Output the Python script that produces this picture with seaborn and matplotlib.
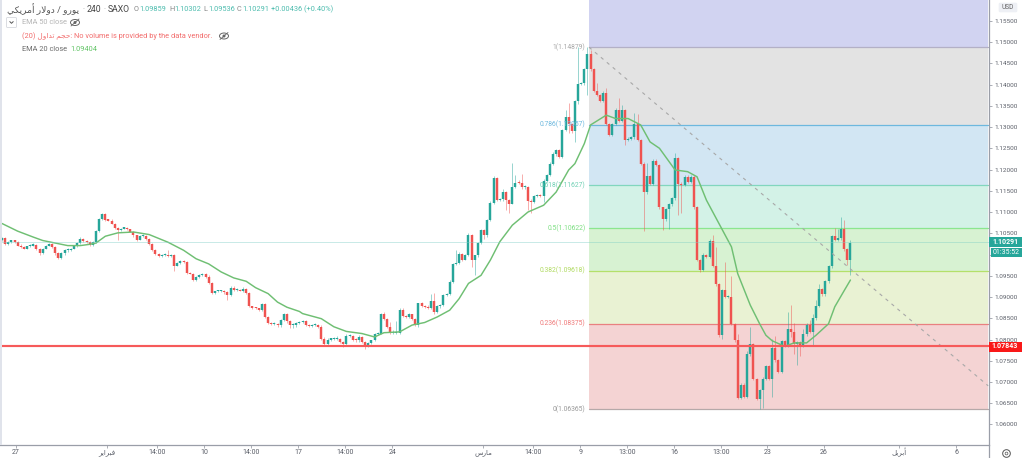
import numpy as np
import pandas as pd
import matplotlib
matplotlib.use("Agg")
import matplotlib.pyplot as plt
from matplotlib.patches import Rectangle, Ellipse, FancyBboxPatch
import seaborn as sns

# ---------- data ----------
first_open = 1.1033
closes = [
 1.1039,1.1025,1.1029,1.1033,1.1029,1.1021,1.1018,1.1014,1.1019,1.1021,
 1.1023,1.1014,1.1004,1.1014,1.1021,1.1025,1.1018,1.1003,1.0992,1.1003,
 1.1010,1.1011,1.1014,1.1019,1.1027,1.1037,1.1032,1.1029,1.1023,1.1029,
 1.1055,1.1083,1.1095,1.1082,1.1080,1.1073,1.1063,1.1058,1.1061,1.1061,
 1.1059,1.1054,1.1045,1.1035,1.1043,1.1043,1.1037,1.1025,1.1011,1.1002,
 1.0997,1.0998,1.0998,1.0996,1.0998,1.0974,1.0980,1.0984,1.0982,1.0956,
 1.0955,1.0941,1.0947,1.0951,1.0955,1.0948,1.0933,1.0909,1.0913,1.0913,
 1.0914,1.0911,1.0904,1.0922,1.0917,1.0917,1.0915,1.0919,1.0909,1.0878,
 1.0875,1.0873,1.0870,1.0884,1.0854,1.0839,1.0837,1.0837,1.0833,1.0846,
 1.0859,1.0843,1.0833,1.0834,1.0839,1.0841,1.0844,1.0834,1.0832,1.0834,
 1.0834,1.0830,1.0802,1.0790,1.0800,1.0802,1.0802,1.0802,1.0794,1.0789,
 1.0808,1.0808,1.0800,1.0798,1.0806,1.0794,1.0786,1.0792,1.0798,1.0812,
 1.0814,1.0861,1.0849,1.0830,1.0816,1.0816,1.0816,1.0870,1.0855,1.0853,
 1.0859,1.0848,1.0834,1.0885,1.0879,1.0877,1.0875,1.0890,1.0865,1.0878,
 1.0881,1.0904,1.0906,1.0936,1.0977,1.0980,1.1001,1.0988,1.0998,1.1045,
 1.0987,1.0998,1.1027,1.1057,1.1045,1.1081,1.1122,1.1181,1.1128,1.1130,
 1.1146,1.1128,1.1120,1.1159,1.1169,1.1168,1.1158,1.1158,1.1126,1.1124,
 1.1138,1.1140,1.1138,1.1174,1.1187,1.1214,1.1236,1.1246,1.1229,1.1293,
 1.1323,1.1307,1.1291,1.1361,1.1401,1.1403,1.1437,1.1472,1.1436,1.1386,
 1.1375,1.1361,1.1381,1.1307,1.1281,1.1307,1.1340,1.1315,1.1340,1.1269,
 1.1273,1.1276,1.1307,1.1269,1.1214,1.1146,1.1185,1.1167,1.1221,1.1211,
 1.1111,1.1083,1.1106,1.1118,1.1132,1.1226,1.1167,1.1164,1.1183,1.1171,
 1.1183,1.1111,1.0987,1.0964,1.0998,1.0994,1.1032,1.0973,1.0930,1.0810,
 1.0917,1.0900,1.0900,1.0837,1.0798,1.0663,1.0694,1.0665,1.0765,1.0789,
 1.0708,1.0661,1.0680,1.0708,1.0737,1.0708,1.0781,1.0751,1.0724,1.0796,
 1.0786,1.0825,1.0818,1.0790,1.0794,1.0786,1.0812,1.0835,1.0818,1.0850,
 1.0880,1.0919,1.0906,1.0937,1.0972,1.1044,1.1034,1.1038,1.1059,1.1012,1.0987,1.1028]
# wick lengths, in pips
upper_wick = [
 2,3,2,2,2,3,3,2,2,2,3,2,2,2,2,3,2,2,2,2,
 2,2,2,3,2,4,2,2,2,3,3,2,3,2,2,3,2,2,2,2,
 2,2,2,2,3,2,2,2,3,2,2,2,2,12,2,4,2,3,2,2,
 2,2,2,2,2,2,3,2,2,2,2,2,3,3,3,2,2,4,3,2,
 2,2,2,3,2,2,2,2,2,3,3,4,2,3,3,2,3,3,2,2,
 2,2,3,3,3,2,2,3,2,2,4,2,2,3,4,2,2,2,2,3,
 2,2,3,2,12,3,25,3,3,2,3,2,2,2,3,2,3,18,20,3,
 3,3,3,3,2,30,4,2,3,6,3,2,3,3,2,2,3,4,2,2,
 8,3,2,57,18,4,22,3,3,3,3,2,2,3,3,4,5,3,3,3,
 17,33,3,3,88,3,3,16,9,3,17,3,4,10,3,3,4,28,12,3,
 3,3,27,23,3,4,30,3,3,3,3,2,3,3,4,13,3,3,3,4,
 3,3,3,3,5,3,4,13,45,3,3,65,3,50,3,15,3,3,9,41,
 3,2,3,3,4,3,21,28,3,4,3,39,57,21,3,3,13,4,10,9,
 12,12,3,4,4,3,18,23,30,22,3,5]
lower_wick = [
 2,3,2,3,2,2,3,2,2,2,2,3,5,2,2,2,2,3,3,2,
 3,3,2,2,2,2,2,3,3,3,2,2,2,2,2,2,3,24,2,2,
 2,2,3,3,2,2,2,2,2,2,2,2,2,3,2,12,2,2,2,3,
 2,3,3,2,2,3,3,3,2,2,2,3,12,2,2,2,2,3,3,2,
 3,2,3,3,3,3,4,3,3,3,2,3,7,6,5,3,3,3,2,2,
 3,3,4,5,5,4,3,4,3,6,3,3,3,3,3,3,8,3,3,2,
 2,2,2,2,3,3,2,3,3,3,3,3,3,4,2,2,3,3,6,3,
 3,3,2,2,3,2,3,3,2,2,17,35,4,3,8,3,2,2,3,2,
 3,24,22,2,3,3,3,3,22,27,3,3,3,15,3,3,3,3,3,3,
 3,22,4,26,7,3,3,61,3,3,3,3,3,3,3,3,3,3,3,12,
 3,3,3,3,3,91,3,3,3,3,3,25,3,47,3,3,75,67,3,3,
 3,3,3,4,3,3,3,3,3,4,8,3,3,3,3,3,3,3,3,3,
 3,4,24,42,3,3,43,3,4,3,3,3,12,24,49,24,4,3,3,31,
 3,3,3,3,3,3,3,3,3,3,12,35]

ema_bars = [0,5,10,13,17,21,25,28,30,33,37,42,47,53,58,62,66,70,74,78,81,85,88,91,95,
            96,102,106,110,115,119,122,127,131,135,139,143,146,149,153,156,159,163,168,173,177,181,
            183,186,188,193,196,200,204,207,210,215,219,222,225,229,233,235,239,242,244,246,250,253,257,260,264,266,269,271]
ema_vals = [1.1073,1.1055,1.1041,1.1033,1.1027,1.1021,1.1021,1.1024,1.1027,1.1043,1.1051,1.1053,1.1047,1.1029,1.1010,1.0990,1.0978,1.0959,1.0945,1.0937,1.0922,1.0908,1.0888,1.0876,1.0866,
            1.0861,1.0849,1.0830,1.0819,1.0814,1.0806,1.0816,1.0818,1.0834,1.0840,1.0853,1.0869,1.0896,1.0932,1.0951,1.0987,1.1030,1.1069,1.1100,1.1116,1.1147,1.1199,
            1.1214,1.1261,1.1305,1.1328,1.1320,1.1320,1.1305,1.1265,1.1250,1.1199,1.1195,1.1183,1.1128,1.1073,1.1018,1.0955,1.0881,1.0837,1.0810,1.0797,1.0784,1.0792,1.0792,1.0810,1.0837,1.0877,1.0915,1.0940]

fib_ratios = [1, 0.786, 0.618, 0.5, 0.382, 0.236, 0]
fib_prices = [1.14879, 1.13057, 1.11627, 1.10622, 1.09618, 1.08375, 1.06365]
fib_line_colors = ['#b3b0c6', '#6db8de', '#82d6be', '#8be68f', '#b4e06a', '#e98080', '#b5a9a9']
fib_text_colors = ['#a8a8a8', '#6db8de', '#70d0b4', '#7ddf82', '#b0da60', '#ef7a7a', '#9a9a9a']
fib_fill_colors = ['#d1d3f1', '#e3e3e3', '#d2e6f3', '#d3f2e7', '#d7f2d2', '#e9f2d3', '#f4d3d3']
fib_start_bar, fib_end_bar = 187.5, 315.0
trend_bars = [187.5, 315.0]
trend_prices = [1.14879, 1.0691]
support_price = 1.07843
last_price = 1.10291

y_ticks = [1.06, 1.065, 1.07, 1.075, 1.08, 1.085, 1.09, 1.095, 1.10, 1.105, 1.11, 1.115, 1.12,
           1.125, 1.13, 1.135, 1.14, 1.145, 1.15, 1.155]
hidden_y_labels = [1.10]   # covered by the countdown tag in the reference
x_tick_bars = [4.5, 33.5, 49.5, 64.5, 79.6, 94.6, 109.6, 124.6, 153.7, 169.6, 184.7, 199.7, 214.7, 229.7, 244.4, 262.6, 286.6, 304.8]
x_tick_text = ['27', 'فبراير', '14:00', '10', '14:00', '17', '14:00', '24', 'مارس', '14:00', '9', '13:00', '16', '13:00', '23', '26', 'أبريل', '6']

# ---------- small Arabic shaper (matplotlib does no shaping) ----------
FORMS = {'ا':(0xFE8D,0xFE8E),'أ':(0xFE83,0xFE84),'د':(0xFEA9,0xFEAA),'ر':(0xFEAD,0xFEAE),'و':(0xFEED,0xFEEE),
         'ﻻ':(0xFEFB,0xFEFC),
         'ب':(0xFE8F,0xFE90,0xFE91,0xFE92),'ت':(0xFE95,0xFE96,0xFE97,0xFE98),'ج':(0xFE9D,0xFE9E,0xFE9F,0xFEA0),
         'ح':(0xFEA1,0xFEA2,0xFEA3,0xFEA4),'س':(0xFEB1,0xFEB2,0xFEB3,0xFEB4),'ف':(0xFED1,0xFED2,0xFED3,0xFED4),
         'ك':(0xFED9,0xFEDA,0xFEDB,0xFEDC),'ل':(0xFEDD,0xFEDE,0xFEDF,0xFEE0),'م':(0xFEE1,0xFEE2,0xFEE3,0xFEE4),
         'ي':(0xFEF1,0xFEF2,0xFEF3,0xFEF4)}
def ar(s):
    if not any(c in FORMS for c in s):
        return s
    s = s.replace('لا', 'ﻻ')
    out = []
    for i, c in enumerate(s):
        f = FORMS.get(c)
        if f is None:
            out.append(c); continue
        p = s[i-1] if i else ''
        n = s[i+1] if i+1 < len(s) else ''
        jp = p in FORMS and len(FORMS[p]) == 4
        jn = n in FORMS and len(f) == 4
        if jp and jn: k = 3
        elif jn: k = 2
        elif jp: k = 1
        else: k = 0
        out.append(chr(f[k]))
    return ''.join(out[::-1])

# ---------- build long tables ----------
UP, DOWN = '#26a69a', '#ef5350'
opens = [first_open] + closes[:-1]
assert len(closes) == len(upper_wick) == len(lower_wick) == 272
rows_w, rows_b = [], []
for i, (o, c, u, d) in enumerate(zip(opens, closes, upper_wick, lower_wick)):
    side = 'up' if c >= o else 'down'
    top, bot = max(o, c), min(o, c)
    if top - bot < 0.00026:
        top = bot + 0.00026
    rows_w += [(i, bot - d*1e-4, side), (i, top + u*1e-4, side)]
    rows_b += [(i, bot, side), (i, top, side)]
wicks = pd.DataFrame(rows_w, columns=['bar', 'price', 'side'])
bodies = pd.DataFrame(rows_b, columns=['bar', 'price', 'side'])
ema = pd.DataFrame({'bar': ema_bars, 'ema': ema_vals})
trend = pd.DataFrame({'bar': trend_bars, 'price': trend_prices})

# ---------- figure ----------
sns.set_theme(style='white')
plt.rcParams['font.family'] = ['Roboto', 'DejaVu Sans']
W, H = 1024, 458
fig = plt.figure(figsize=(W/100, H/100), dpi=100, facecolor='white')
ax = fig.add_axes([0, 1-444.5/H, 988.5/W, 444.5/H])
ax.set_xlim(-0.64, 315.1)
ax.set_ylim(1.05529, 1.15990)

# fib zones
levels = [1.15990] + fib_prices
for top, bot, col in zip(levels[:-1], levels[1:], fib_fill_colors):
    ax.fill_between([fib_start_bar, fib_end_bar], bot, top, color=col, lw=0, zorder=0)
for price, col in zip(fib_prices, fib_line_colors):
    sns.lineplot(x=[fib_start_bar, fib_end_bar], y=[price, price], color=col, lw=0.9, ax=ax, zorder=1)
for ratio, price, col in zip(fib_ratios, fib_prices, fib_text_colors):
    ax.annotate(f'{ratio}({price:.5f})', (fib_start_bar, price), xytext=(-2.5, 0), textcoords='offset points',
                ha='right', va='center', fontsize=4.9, color=col, zorder=6)

pal = {'up': UP, 'down': DOWN}
sns.lineplot(data=wicks, x='bar', y='price', hue='side', units='bar', estimator=None, sort=False,
             palette=pal, lw=0.55, alpha=0.6, legend=False, ax=ax, zorder=2, solid_capstyle='butt')
sns.lineplot(data=bodies, x='bar', y='price', hue='side', units='bar', estimator=None, sort=False,
             palette=pal, lw=1.75, legend=False, ax=ax, zorder=3, solid_capstyle='butt')
sns.lineplot(data=ema, x='bar', y='ema', color='#6fbf73', lw=1.05, ax=ax, zorder=4)
sns.lineplot(data=trend, x='bar', y='price', color='#a8a8a8', lw=0.8, ax=ax, zorder=4, linestyle=(0, (3, 4)))

ax.axhline(support_price, color='#f65a5a', lw=1.55, zorder=5)
ax.axhline(last_price, color='#7fcfc6', lw=0.6, ls=(0, (1.2, 1.2)), zorder=5)

ax.yaxis.tick_right()
ax.set_yticks(y_ticks)
ax.set_yticklabels(['' if v in hidden_y_labels else f'{v:.5f}' for v in y_ticks], fontsize=4.6, color='#5a5e68')
ax.set_xticks(x_tick_bars)
ax.set_xticklabels([ar(t) for t in x_tick_text], fontsize=5.0, color='#5a5e68')
ax.tick_params(axis='both', length=2.2, width=0.5, color='#8a8e98', pad=2.2, bottom=True, right=True, left=False, labelleft=False)
ax.tick_params(axis='x', pad=3.8)
for lab in ax.get_xticklabels():
    lab.set_va('center')
ax.set_xlabel(''); ax.set_ylabel('')
for s in ('top', 'left'):
    ax.spines[s].set_visible(False)
for s in ('right', 'bottom'):
    ax.spines[s].set_color('#9a9ea8'); ax.spines[s].set_linewidth(0.9)
ax.patch.set_alpha(0)

# ---------- chrome in pixel coordinates ----------
ov = fig.add_axes([0, 0, 1, 1], zorder=10)
ov.set_xlim(0, W); ov.set_ylim(H, 0); ov.axis('off'); ov.patch.set_alpha(0)
def T(x, y, s, col='#555', fs=5.2, ha='left', **kw):
    ov.text(x, y, s, color=col, fontsize=fs, ha=ha, va='center', **kw)
def eye(x, y):
    ov.add_patch(Ellipse((x, y), 9, 6, fc='none', ec='#666', lw=0.7))
    ov.add_patch(Ellipse((x, y), 3, 3, fc='#666', ec='none'))
    ov.plot([x-4, x+4], [y+3.5, y-3.5], color='#666', lw=0.6)

ov.add_patch(Rectangle((0, 0), 2, 445, fc='#e0e3eb', ec='none'))
# header
T(7, 9.5, ar('يورو / دولار أمريكي'), '#555', 6.6)
T(82.5, 9.5, '·', '#999', 5.5)
T(87, 9.5, '240', '#444', 6.2)
T(103, 9.5, '·', '#999', 5.5)
T(108, 9.5, 'SAXO', '#444', 6.2)
TEAL_T = '#4dbcae'
for x, lab, val in [(134, 'O', '1.09859'), (169, 'H', '1.10302'), (203, 'L', '1.09536'), (237, 'C', '1.10291')]:
    T(x, 9.5, lab, '#888', 5.3)
    T(x+5, 9.5, val, TEAL_T, 5.3)
T(271, 9.5, '+0.00436 (+0.40%)', TEAL_T, 5.3)
ov.add_patch(FancyBboxPatch((7, 18), 9, 9, boxstyle='round,pad=0.5,rounding_size=1', fc='white', ec='#d5d7dd', lw=0.6))
ov.plot([9.8, 11.5, 13.2], [21.6, 23.3, 21.6], color='#555', lw=0.7)
T(22, 22.5, 'EMA 50 close', '#b5b5b5', 5.3)
eye(75, 22.5)
T(22, 36.5, '(20) ' + ar('حجم تداول') + ': No volume is provided by the data vendor.', '#f26c6c', 5.3)
eye(224, 36)
T(22, 49.5, 'EMA 20 close', '#6a6a6a', 5.3)
T(70, 49.5, '1.09404', '#62c466', 5.3)

# right-hand tags
ov.add_patch(FancyBboxPatch((999, 3), 18, 9, boxstyle='round,pad=0.3,rounding_size=1.5', fc='#eef0f5', ec='none'))
T(1008, 7.5, 'USD', '#666', 4.8, ha='center')
ov.add_patch(Rectangle((988.5, 236.5), 33, 10, fc='#26a69a', ec='none'))
T(1005, 241.5, '1.10291', 'white', 5.0, ha='center', fontweight='bold')
ov.add_patch(Rectangle((990.5, 247.5), 31, 9.5, fc='#26a69a', ec='none'))
T(1006, 252, '01:35:52', 'white', 5.0, ha='center')
ov.add_patch(Rectangle((988.5, 341.5), 33, 10, fc='#f91818', ec='none'))
T(1005, 346.5, '1.07843', 'white', 5.0, ha='center', fontweight='bold')
# gear and bottom strip
ov.plot([988.5, 988.5], [444.5, 458], color='#9a9ea8', lw=0.9)
ov.plot([1005.5], [452.5], marker='o', ms=5.5, mfc='white', mec='#555', mew=0.7)
ov.plot([1005.5], [452.5], marker='o', ms=2.0, mfc='white', mec='#555', mew=0.5)

fig.savefig('out.png', dpi=100)
